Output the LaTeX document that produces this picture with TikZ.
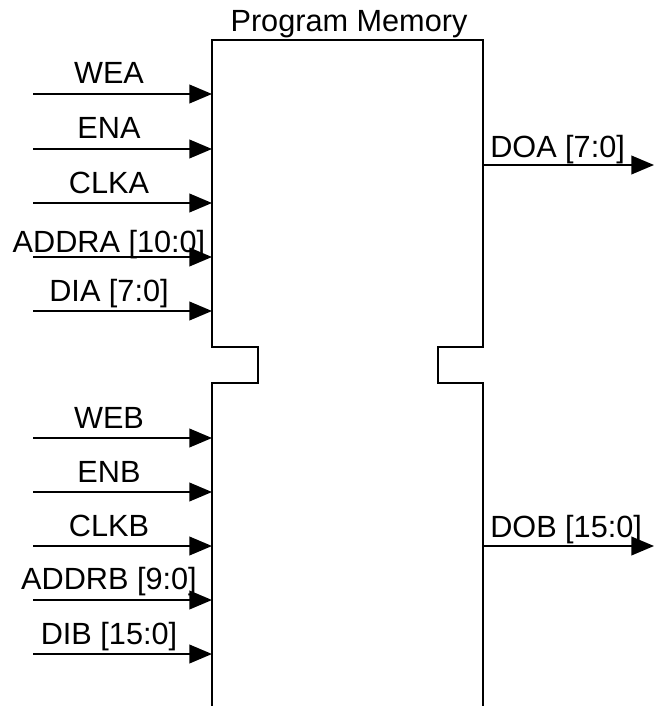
\documentclass[tikz,border=0pt]{standalone}
\usepackage{fontspec}
\setmainfont{Liberation Sans}
\usetikzlibrary{arrows.meta}

\begin{document}
\begin{tikzpicture}[
    x=0.75pt, y=-0.75pt, % one unit = one pixel of the sketch
    block/.style={line width=1.4pt, line join=miter},
    wire/.style={line width=1.4pt, -{Triangle[length=17pt, width=14pt]}},
    sig/.style={font=\fontsize{23}{27}\selectfont, anchor=base, inner sep=0pt},
    outsig/.style={sig, anchor=base west}
]
\useasboundingbox (0,0) rectangle (654,706);

% Memory block outline (open at the bottom, notched between ports)
\draw[block] (212,706) -- (212,383) -- (258,383) -- (258,347) -- (212,347)
    -- (212,40) -- (483,40) -- (483,347) -- (438,347) -- (438,383)
    -- (483,383) -- (483,706);
\node[sig] (title) at (349,32) {Program Memory};

% Port A inputs
\coordinate (wea-in) at (33,94);   \coordinate (wea) at (212,94);
\coordinate (ena-in) at (33,149);  \coordinate (ena) at (212,149);
\coordinate (clka-in) at (33,203); \coordinate (clka) at (212,203);
\coordinate (addra-in) at (33,257);\coordinate (addra) at (212,257);
\coordinate (dia-in) at (33,311);  \coordinate (dia) at (212,311);

\node[sig] (wea-lbl) at (109,84) {WEA};
\node[sig] (ena-lbl) at (109,139) {ENA};
\node[sig] (clka-lbl) at (109,193) {CLKA};
\node[sig] (addra-lbl) at (109,252) {ADDRA [10:0]};
\node[sig] (dia-lbl) at (109,301) {DIA [7:0]};

% Port B inputs
\coordinate (web-in) at (33,438);  \coordinate (web) at (212,438);
\coordinate (enb-in) at (33,492);  \coordinate (enb) at (212,492);
\coordinate (clkb-in) at (33,546); \coordinate (clkb) at (212,546);
\coordinate (addrb-in) at (33,600);\coordinate (addrb) at (212,600);
\coordinate (dib-in) at (33,654);  \coordinate (dib) at (212,654);

\node[sig] (web-lbl) at (109,428) {WEB};
\node[sig] (enb-lbl) at (109,482) {ENB};
\node[sig] (clkb-lbl) at (109,536) {CLKB};
\node[sig] (addrb-lbl) at (109,589) {ADDRB [9:0]};
\node[sig] (dib-lbl) at (109,644) {DIB [15:0]};

% Outputs
\coordinate (doa) at (483,165); \coordinate (doa-out) at (654,165);
\coordinate (dob) at (483,546); \coordinate (dob-out) at (654,546);

\node[outsig] (doa-lbl) at (490,157) {DOA [7:0]};
\node[outsig] (dob-lbl) at (490,537) {DOB [15:0]};

% Wires
\draw[wire] (wea-in) -- (wea);
\draw[wire] (ena-in) -- (ena);
\draw[wire] (clka-in) -- (clka);
\draw[wire] (addra-in) -- (addra);
\draw[wire] (dia-in) -- (dia);
\draw[wire] (web-in) -- (web);
\draw[wire] (enb-in) -- (enb);
\draw[wire] (clkb-in) -- (clkb);
\draw[wire] (addrb-in) -- (addrb);
\draw[wire] (dib-in) -- (dib);
\draw[wire] (doa) -- (doa-out);
\draw[wire] (dob) -- (dob-out);

\end{tikzpicture}
\end{document}
